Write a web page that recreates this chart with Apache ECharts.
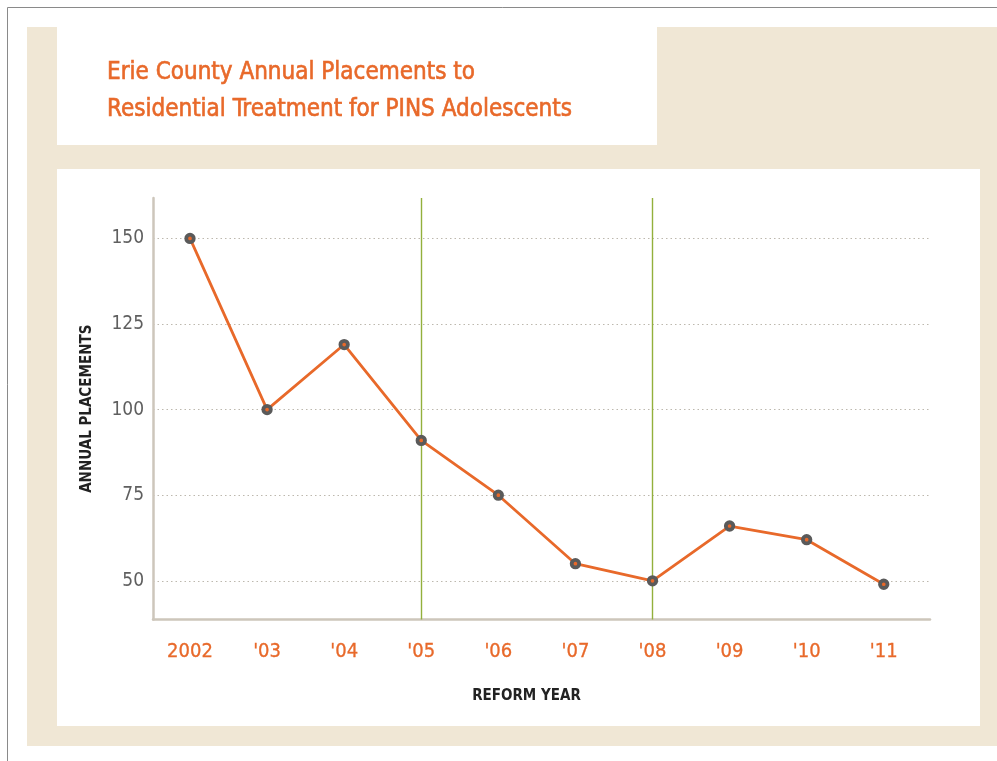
<!DOCTYPE html>
<html>
<head>
<meta charset="utf-8">
<script src="https://cdn.jsdelivr.net/npm/echarts@6/dist/echarts.min.js"></script>
<style>
html,body{margin:0;padding:0;background:#fff;}
#chart{width:997px;height:761px;}
</style>
</head>
<body>
<div id="chart"></div>
<script>
// ---- data ----
var categories = ['2002', "'03", "'04", "'05", "'06", "'07", "'08", "'09", "'10", "'11"];
var placements = [150, 100, 119, 91, 75, 55, 50, 66, 62, 49];
var yTicks = [50, 75, 100, 125, 150];
var reformYears = ["'05", "'08"];
var titleLines = ['Erie County Annual Placements to', 'Residential Treatment for PINS Adolescents'];

var FONT = "'Liberation Sans Narrow', 'DejaVu Sans Condensed', 'Arial Narrow', sans-serif";
var ORANGE = '#e8692a';
var BEIGE = '#f0e7d5';

var seriesData = placements.map(function (v, i) { return [i, v]; });
var catIdx = categories.map(function (c, i) { return i; });

var chart = echarts.init(document.getElementById('chart'), null, {renderer: 'canvas'});
chart.setOption({
  backgroundColor: '#ffffff',
  animation: false,
  graphic: [
    {type: 'line', z: -20, shape: {x1: 7.5, y1: 7.5, x2: 997, y2: 7.5}, style: {stroke: '#8a8a8a', lineWidth: 1}},
    {type: 'line', z: -20, shape: {x1: 7.5, y1: 7.5, x2: 7.5, y2: 761}, style: {stroke: '#8a8a8a', lineWidth: 1}},
    {type: 'rect', z: -19, shape: {x: 27, y: 27, width: 970, height: 719}, style: {fill: BEIGE}},
    {type: 'rect', z: -18, shape: {x: 57, y: 27, width: 600, height: 118}, style: {fill: '#ffffff'}},
    {type: 'rect', z: -18, shape: {x: 57, y: 169, width: 923, height: 557}, style: {fill: '#ffffff'}}
  ],
  title: {
    text: titleLines.join('\n'),
    left: 102,
    top: 49,
    textStyle: {
      fontFamily: FONT,
      fontSize: 24,
      fontWeight: 'normal',
      color: ORANGE,
      textBorderColor: ORANGE,
      textBorderWidth: 0.6,
      lineHeight: 37
    }
  },
  grid: {left: 153, top: 198, width: 777, height: 421.5, containLabel: false},
  xAxis: {
    type: 'value',
    min: -0.48,
    max: 9.6,
    name: 'REFORM YEAR',
    nameLocation: 'middle',
    nameGap: 69,
    nameTextStyle: {fontFamily: FONT, fontSize: 15, fontWeight: 'bold', color: '#222222', padding: [0, 30, 0, 0]},
    axisLine: {show: true, onZero: false, lineStyle: {color: '#cdc6bb', width: 2.5}},
    axisTick: {show: false, customValues: catIdx},
    splitLine: {show: false},
    axisLabel: {
      customValues: catIdx,
      margin: 22,
      fontFamily: FONT,
      fontSize: 20,
      color: ORANGE,
      textBorderColor: ORANGE,
      textBorderWidth: 0.3,
      formatter: function (v) { return categories[Math.round(v)]; }
    }
  },
  yAxis: {
    type: 'value',
    min: 38.7,
    max: 161.8,
    name: 'ANNUAL PLACEMENTS',
    nameLocation: 'middle',
    nameGap: 58,
    nameTextStyle: {fontFamily: FONT, fontSize: 15, fontWeight: 'bold', color: '#222222'},
    axisLine: {show: true, onZero: false, lineStyle: {color: '#cdc6bb', width: 2.5}},
    axisTick: {show: false, customValues: yTicks},
    axisLabel: {
      customValues: yTicks,
      margin: 9,
      fontFamily: FONT,
      fontSize: 19,
      color: '#5f5f5f'
    },
    splitLine: {show: true, lineStyle: {color: '#bdb8ae', type: [1.5, 3], width: 1}}
  },
  series: [{
    type: 'line',
    data: seriesData,
    symbol: 'circle',
    symbolSize: 7.5,
    itemStyle: {color: ORANGE, borderColor: '#5a5a5a', borderWidth: 3.8},
    lineStyle: {color: ORANGE, width: 2.8},
    z: 5,
    markLine: {
      silent: true,
      symbol: 'none',
      label: {show: false},
      lineStyle: {color: '#93b03c', width: 1.4, type: 'solid'},
      data: reformYears.map(function (y) { return {xAxis: categories.indexOf(y)}; })
    }
  }]
});
</script>
</body>
</html>
